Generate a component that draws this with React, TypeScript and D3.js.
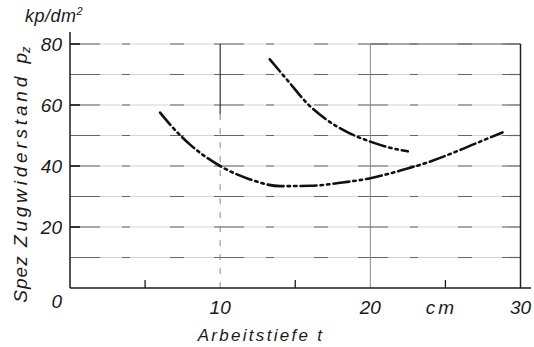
import React from "react";
import * as d3 from "d3";

const W = 534, H = 347;
const xTicks = [10, 20, 30];
const xMinor = [5, 15, 25];
const yTickLabels = [80, 60, 40, 20];
const gridY = [10, 20, 30, 40, 50, 60, 70, 80];
// Lower curve (dash-dot-dot)
const curveA_t = [6, 6.7, 8, 10, 12, 14, 16, 18, 20, 22, 24, 26, 28, 28.8];
const curveA_p = [57.5, 53.4, 47, 40, 35.6, 33.4, 33.5, 34.5, 36, 38.5, 41.5, 45.3, 49.4, 51];
// Upper curve (dash-dot-dot)
const curveB_t = [13.3, 14.5, 15.8, 17, 18.5, 20, 21.3, 22.5];
const curveB_p = [75, 68, 60.5, 55.5, 51, 48, 46, 44.8];

const FONT = "'Liberation Sans', 'DejaVu Sans', sans-serif";

export default function App() {
  const x = d3.scaleLinear().domain([0, 30]).range([70, 520.5]);
  const y = d3.scaleLinear().domain([0, 80]).range([288, 44]);
  const line = d3.line<[number, number]>().x(d => x(d[0])).y(d => y(d[1])).curve(d3.curveMonotoneX);
  const dA = line(curveA_t.map((t, i) => [t, curveA_p[i]] as [number, number])) || "";
  const dB = line(curveB_t.map((t, i) => [t, curveB_p[i]] as [number, number])) || "";
  const dash = "16 4 2.5 4 2.5 4";
  const ink = "#1a1a1a";
  return (
    <svg width={W} height={H} style={{ position: "absolute", left: 0, top: 0, background: "#fff" }}>
      {/* horizontal grid lines */}
      {gridY.map(v => (
        <g key={v}>
          <line x1={x(0)} x2={x(30)} y1={y(v)} y2={y(v)} stroke="#d4d4d4" strokeWidth={1.2} />
          <line x1={x(0)} x2={x(30)} y1={y(v)} y2={y(v)} stroke="#666" strokeWidth={1.2} strokeDasharray="30 22 8 40 14 30" />
        </g>
      ))}
      {/* top frame right part */}
      <line x1={x(20)} x2={x(30)} y1={y(80)} y2={y(80)} stroke="#666" strokeWidth={1.2} />
      {/* vertical lines */}
      <line x1={x(10)} x2={x(10)} y1={y(80)} y2={y(57)} stroke="#333" strokeWidth={1.2} />
      <line x1={x(10)} x2={x(10)} y1={y(57)} y2={y(0)} stroke="#888" strokeWidth={1} strokeDasharray="6 8" />
      <line x1={x(20)} x2={x(20)} y1={y(80)} y2={y(0)} stroke="#888" strokeWidth={1} />
      <line x1={x(30)} x2={x(30)} y1={y(80)} y2={y(0)} stroke="#222" strokeWidth={1.5} />
      {/* axes */}
      <line x1={x(0)} x2={x(0)} y1={32} y2={y(0)} stroke={ink} strokeWidth={1.5} />
      <line x1={x(0)} x2={531} y1={y(0)} y2={y(0)} stroke={ink} strokeWidth={1.5} />
      {yTickLabels.map(v => (
        <line key={v} x1={x(0)} x2={x(0) + 10} y1={y(v)} y2={y(v)} stroke={ink} strokeWidth={1.6} />
      ))}
      {xMinor.map(v => (
        <line key={v} x1={x(v)} x2={x(v)} y1={y(0)} y2={y(0) - 8} stroke={ink} strokeWidth={1.3} />
      ))}
      {/* curves */}
      <path d={dA} fill="none" stroke="#111" strokeWidth={2.6} strokeDasharray={dash} strokeLinecap="round" />
      <path d={dB} fill="none" stroke="#111" strokeWidth={2.6} strokeDasharray={dash} strokeLinecap="round" />
      {/* y tick labels */}
      <g fontFamily={FONT} fontStyle="italic" fontSize={19} fill={ink} textAnchor="end">
        {yTickLabels.map(v => (
          <text key={v} x={x(0) - 8} y={y(v) + 7}>{v}</text>
        ))}
        <text x={x(0) - 8} y={y(0) + 20}>0</text>
      </g>
      {/* x tick labels */}
      <g fontFamily={FONT} fontStyle="italic" fontSize={19} fill={ink} textAnchor="middle">
        {xTicks.map(v => (
          <text key={v} x={x(v)} y={y(0) + 26}>{v}</text>
        ))}
        <text x={x(25) - 4} y={y(0) + 26} letterSpacing={3}>cm</text>
      </g>
      <text x={261} y={341} fontFamily={FONT} fontStyle="italic" fontSize={17} letterSpacing={2.3} textAnchor="middle" fill={ink}>Arbeitstiefe t</text>
      {/* y title */}
      <g fontFamily={FONT} fontStyle="italic" fontSize={19} fill={ink} textAnchor="middle">
        <text transform={`translate(27,279) rotate(-90)`} letterSpacing={1}>Spez</text>
        <text transform={`translate(27,160) rotate(-90)`} letterSpacing={3.8}>Zugwiderstand</text>
        <text transform={`translate(27,55) rotate(-90)`}>p<tspan fontSize={13} dy={3}>z</tspan></text>
      </g>
      <text x={25} y={22} fontFamily={FONT} fontStyle="italic" fontSize={18} fill={ink} letterSpacing={0.5}>kp/dm<tspan fontSize={11} dy={-7}>2</tspan></text>
    </svg>
  );
}
